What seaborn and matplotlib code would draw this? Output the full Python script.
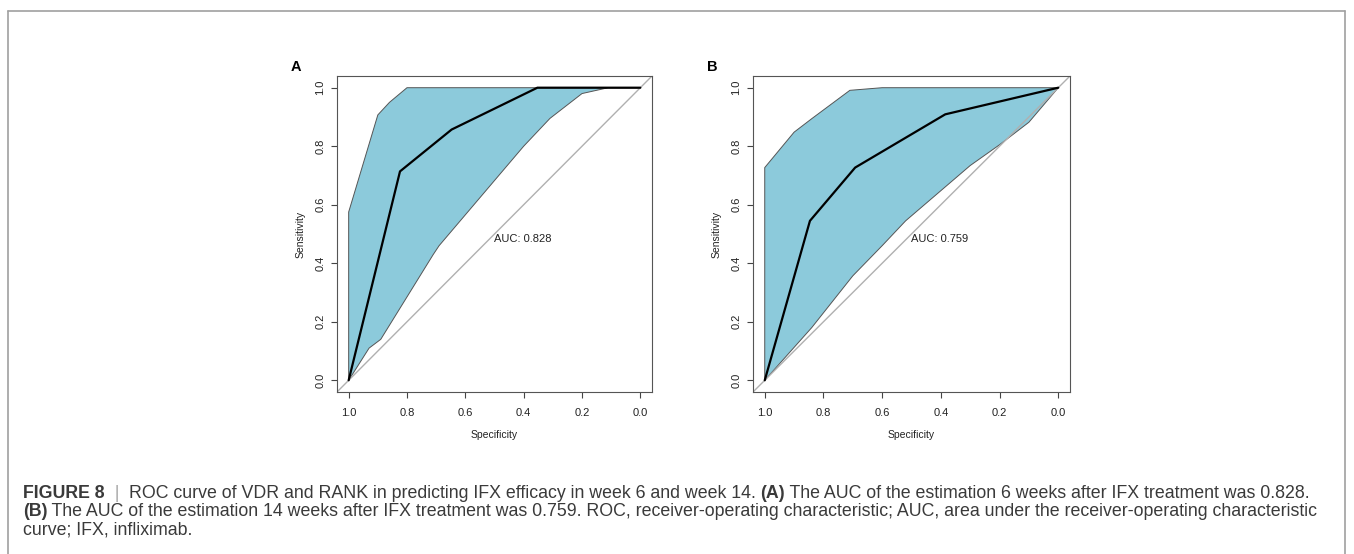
import numpy as np
import pandas as pd
import seaborn as sns
import matplotlib.pyplot as plt

# ROC curve points (specificity, sensitivity)
roc_a_spec = [1.0, 0.824, 0.647, 0.353, 0.0]
roc_a_sens = [0.0, 0.714, 0.857, 1.0, 1.0]
upper_a_spec = [1.0, 1.0, 0.90, 0.86, 0.80, 0.0]
upper_a_sens = [0.0, 0.575, 0.907, 0.95, 1.0, 1.0]
lower_a_spec = [1.0, 0.93, 0.89, 0.71, 0.69, 0.40, 0.31, 0.20, 0.11, 0.0]
lower_a_sens = [0.0, 0.11, 0.14, 0.43, 0.46, 0.80, 0.895, 0.98, 1.0, 1.0]
auc_a = 0.828

roc_b_spec = [1.0, 0.846, 0.692, 0.385, 0.0]
roc_b_sens = [0.0, 0.545, 0.727, 0.909, 1.0]
upper_b_spec = [1.0, 1.0, 0.90, 0.84, 0.71, 0.60, 0.0]
upper_b_sens = [0.0, 0.727, 0.848, 0.894, 0.991, 1.0, 1.0]
lower_b_spec = [1.0, 0.84, 0.70, 0.60, 0.52, 0.30, 0.20, 0.10, 0.0]
lower_b_sens = [0.0, 0.18, 0.357, 0.46, 0.545, 0.734, 0.805, 0.882, 1.0]
auc_b = 0.759

panels = [
    ("A", roc_a_spec, roc_a_sens, upper_a_spec, upper_a_sens, lower_a_spec, lower_a_sens, auc_a),
    ("B", roc_b_spec, roc_b_sens, upper_b_spec, upper_b_sens, lower_b_spec, lower_b_sens, auc_b),
]

sns.set_style("white")
plt.rcParams['font.family'] = ['Liberation Sans', 'DejaVu Sans']

fig = plt.figure(figsize=(13.54, 5.54), dpi=100)
W, H = 1354, 554

# outer frame (open at the bottom)
fig.add_artist(plt.Line2D([8 / W, 8 / W], [0, 1 - 11 / H], color="#a0a0a0", lw=1.2))
fig.add_artist(plt.Line2D([8 / W, 1345 / W], [1 - 11 / H, 1 - 11 / H], color="#a0a0a0", lw=1.2))
fig.add_artist(plt.Line2D([1345 / W, 1345 / W], [0, 1 - 11 / H], color="#a0a0a0", lw=1.2))

boxes = [(337, 76, 652, 392), (753, 76, 1070, 392)]
fill_col = "#8ccadb"

for (label, rs, rse, us, use, ls, lse, auc), (x0, y0, x1, y1) in zip(panels, boxes):
    ax = fig.add_axes([x0 / W, 1 - y1 / H, (x1 - x0) / W, (y1 - y0) / H])
    # confidence band polygon
    poly_x = list(us) + list(ls[::-1])
    poly_y = list(use) + list(lse[::-1])
    ax.fill(poly_x, poly_y, facecolor=fill_col, edgecolor="#555555", lw=0.7, zorder=1)
    ax.axline((1, 0), (0, 1), color="#b0b0b0", lw=1.0, zorder=2)
    df = pd.DataFrame({"Specificity": rs, "Sensitivity": rse})
    sns.lineplot(data=df, x="Specificity", y="Sensitivity", sort=False,
                 color="black", lw=1.6, ax=ax, zorder=3)
    ax.text(0.5, 0.5, f"AUC: {auc:.3f}", ha="left", va="top", fontsize=8, color="#222222")
    ax.set_xlim(1.04, -0.04)
    ax.set_ylim(-0.04, 1.04)
    ticks = [1.0, 0.8, 0.6, 0.4, 0.2, 0.0]
    ax.set_xticks(ticks)
    ax.set_xticklabels([f"{t:.1f}" for t in ticks])
    ax.set_yticks(ticks[::-1])
    ax.set_yticklabels([f"{t:.1f}" for t in ticks[::-1]], rotation=90, va="center")
    ax.tick_params(axis="both", direction="out", length=4.3, width=0.8, color="#444444",
                   labelsize=8, labelcolor="#222222", pad=4, bottom=True, left=True)
    ax.tick_params(axis="x", pad=7)
    for sp in ax.spines.values():
        sp.set_color("#555555")
        sp.set_linewidth(0.8)
    ax.set_xlabel("Specificity", fontsize=7.5, color="#222222", labelpad=9)
    ax.set_ylabel("Sensitivity", fontsize=7.5, color="#222222", labelpad=7)
    fig.text((x0 - 46) / W, 1 - 67 / H, label, fontsize=10.5, fontweight="bold",
             ha="left", va="center", color="black")

# caption
cap_font = ['Liberation Sans', 'DejaVu Sans']
cap_size = 12.8
cap_col = "#3a3a3a"
lines = [
    [("FIGURE 8", "bold", cap_col), ("  |  ", "normal", "#aaaaaa"),
     ("ROC curve of VDR and RANK in predicting IFX efficacy in week 6 and week 14. ", "normal", cap_col),
     ("(A)", "bold", cap_col),
     (" The AUC of the estimation 6 weeks after IFX treatment was 0.828.", "normal", cap_col)],
    [("(B)", "bold", cap_col),
     (" The AUC of the estimation 14 weeks after IFX treatment was 0.759. ROC, receiver-operating "
      "characteristic; AUC, area under the receiver-operating characteristic", "normal", cap_col)],
    [("curve; IFX, infliximab.", "normal", cap_col)],
]
line_y = [493, 512, 530]

renderer = fig.canvas.get_renderer()
for parts, yy in zip(lines, line_y):
    xpos = 23
    for txt, wt, col in parts:
        t = fig.text(xpos / W, 1 - yy / H, txt, fontsize=cap_size, fontweight=wt,
                     color=col, family=cap_font, ha="left", va="center")
        bb = t.get_window_extent(renderer=renderer)
        xpos += bb.width

fig.savefig("out.png", dpi=100)
